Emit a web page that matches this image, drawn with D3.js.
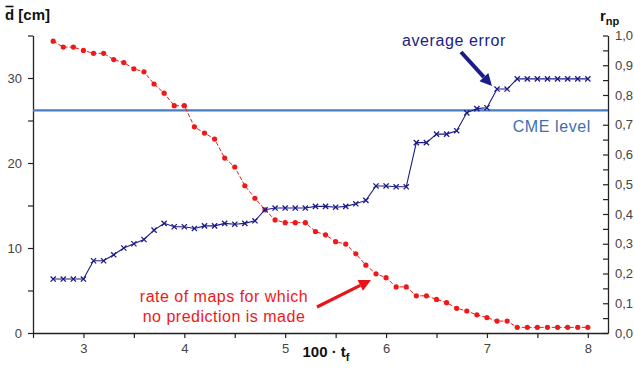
<!DOCTYPE html>
<html>
<head>
<meta charset="utf-8">
<script src="https://cdn.jsdelivr.net/npm/d3@7"></script>
<style>
  body { margin: 0; background: #fff; }
  svg { display: block; font-family: "Liberation Sans", Arial, sans-serif; }
</style>
</head>
<body>
<svg id="chart"></svg>
<script>
// x positions (100 * t_f)
const tf = [2.7, 2.8, 2.9, 3.0, 3.1, 3.2, 3.3, 3.4, 3.5, 3.6,
            3.7, 3.8, 3.9, 4.0, 4.1, 4.2, 4.3, 4.4, 4.5, 4.6,
            4.7, 4.8, 4.9, 5.0, 5.1, 5.2, 5.3, 5.4, 5.5, 5.6,
            5.7, 5.8, 5.9, 6.0, 6.1, 6.2, 6.3, 6.4, 6.5, 6.6,
            6.7, 6.8, 6.9, 7.0, 7.1, 7.2, 7.3, 7.4, 7.5, 7.6,
            7.7, 7.8, 7.9, 8.0];

// average error d [cm] (left axis)
const avgError = [6.35, 6.35, 6.35, 6.35, 8.5, 8.5, 9.2, 10.0, 10.5, 11.0,
                  12.1, 12.9, 12.5, 12.5, 12.3, 12.6, 12.6, 12.9, 12.8, 12.9,
                  13.2, 14.5, 14.7, 14.7, 14.7, 14.7, 14.9, 14.9, 14.8, 14.9,
                  15.2, 15.6, 17.3, 17.3, 17.2, 17.2, 22.4, 22.4, 23.4, 23.4,
                  23.8, 25.9, 26.4, 26.5, 28.7, 28.7, 29.9, 29.9, 29.9, 29.9,
                  29.9, 29.9, 29.9, 29.9];

// rate of maps without prediction r_np (right axis)
const rnp = [0.981, 0.961, 0.961, 0.950, 0.940, 0.940, 0.919, 0.909, 0.888, 0.878,
             0.837, 0.806, 0.764, 0.764, 0.693, 0.672, 0.652, 0.588, 0.558, 0.495,
             0.453, 0.414, 0.380, 0.371, 0.371, 0.371, 0.341, 0.330, 0.307, 0.299,
             0.266, 0.228, 0.199, 0.186, 0.155, 0.155, 0.125, 0.125, 0.113, 0.102,
             0.083, 0.074, 0.061, 0.052, 0.040, 0.040, 0.019, 0.019, 0.019, 0.019,
             0.019, 0.019, 0.019, 0.019];

const cmeLevel = 26.2;

const xMajor = [3, 4, 5, 6, 7, 8];
const xMinor = [2.5, 3.5, 4.5, 5.5, 6.5, 7.5];
const leftMajor = [0, 10, 20, 30];
const leftMinor = [5, 15, 25, 35];
const rightMajor = [0, 0.1, 0.2, 0.3, 0.4, 0.5, 0.6, 0.7, 0.8, 0.9, 1.0];
const rightMinor = [0.05, 0.15, 0.25, 0.35, 0.45, 0.55, 0.65, 0.75, 0.85, 0.95];

const W = 634, H = 371;
const margin = { top: 35.5, right: 26, bottom: 38, left: 33 };

const svg = d3.select("#chart").attr("width", W).attr("height", H);

const x = d3.scaleLinear().domain([2.5, 8.2]).range([margin.left, W - margin.right]);
const yL = d3.scaleLinear().domain([0, 35]).range([H - margin.bottom, margin.top]);
const yR = d3.scaleLinear().domain([0, 1]).range([H - margin.bottom, margin.top]);

const axisColor = "#222";
const labelColor = "#444";

function styleAxis(g) {
  g.select(".domain").attr("stroke", axisColor).attr("stroke-width", 1.3);
  g.selectAll(".tick line").attr("stroke", axisColor).attr("stroke-width", 1.2);
  g.selectAll(".tick text").attr("fill", labelColor).style("font-size", "13px");
}

// x axis
svg.append("g")
  .attr("transform", `translate(0,${H - margin.bottom})`)
  .call(d3.axisBottom(x).tickValues(xMinor).tickSize(5).tickFormat("").tickSizeOuter(0))
  .call(styleAxis);
svg.append("g")
  .attr("transform", `translate(0,${H - margin.bottom})`)
  .call(d3.axisBottom(x).tickValues(xMajor).tickSize(5).tickPadding(6).tickFormat(d3.format("d")).tickSizeOuter(0))
  .call(styleAxis)
  .call(g => g.select(".domain").remove());

// left axis
svg.append("g")
  .attr("transform", `translate(${margin.left},0)`)
  .call(d3.axisLeft(yL).tickValues(leftMinor).tickSize(5).tickFormat("").tickSizeOuter(0))
  .call(styleAxis);
svg.append("g")
  .attr("transform", `translate(${margin.left},0)`)
  .call(d3.axisLeft(yL).tickValues(leftMajor).tickSize(5).tickPadding(6).tickFormat(d3.format("d")).tickSizeOuter(0))
  .call(styleAxis)
  .call(g => g.select(".domain").remove());

// right axis (ticks inward)
const fmtR = d => d3.format(".1f")(d).replace(".", ",");
svg.append("g")
  .attr("transform", `translate(${W - margin.right},0)`)
  .call(d3.axisLeft(yR).tickValues(rightMinor).tickSize(5).tickFormat("").tickSizeOuter(0))
  .call(styleAxis);
svg.append("g")
  .attr("transform", `translate(${W - margin.right},0)`)
  .call(d3.axisLeft(yR).tickValues(rightMajor).tickSize(5).tickFormat(fmtR).tickSizeOuter(0))
  .call(styleAxis)
  .call(g => g.select(".domain").remove())
  .call(g => g.selectAll(".tick text").attr("text-anchor", "start").attr("x", 7));

// CME level line
svg.append("line")
  .attr("x1", margin.left).attr("x2", W - margin.right)
  .attr("y1", yL(cmeLevel)).attr("y2", yL(cmeLevel))
  .attr("stroke", "#4a7cc0").attr("stroke-width", 2.2);

// red series: r_np
const red = "#f01818";
const redData = tf.map((t, i) => ({ t, v: rnp[i] }));
svg.append("path")
  .datum(redData)
  .attr("fill", "none")
  .attr("stroke", red)
  .attr("stroke-width", 1)
  .attr("stroke-dasharray", "4,2")
  .attr("d", d3.line().x(d => x(d.t)).y(d => yR(d.v)));
svg.selectAll(".rdot")
  .data(redData)
  .enter().append("circle")
  .attr("class", "rdot")
  .attr("cx", d => x(d.t))
  .attr("cy", d => yR(d.v))
  .attr("r", 2.6)
  .attr("fill", red);

// blue series: average error
const navy = "#1c1c88";
const blueData = tf.map((t, i) => ({ t, v: avgError[i] }));
svg.append("path")
  .datum(blueData)
  .attr("fill", "none")
  .attr("stroke", navy)
  .attr("stroke-width", 1.1)
  .attr("d", d3.line().x(d => x(d.t)).y(d => yL(d.v)));
svg.selectAll(".bx")
  .data(blueData)
  .enter().append("path")
  .attr("class", "bx")
  .attr("transform", d => `translate(${x(d.t)},${yL(d.v)})`)
  .attr("d", "M-2.6,-2.6L2.6,2.6M-2.6,2.6L2.6,-2.6")
  .attr("stroke", navy)
  .attr("stroke-width", 1.3);

// axis titles
const dTitle = svg.append("text")
  .attr("x", 5).attr("y", 20)
  .attr("font-weight", "bold").style("font-size", "15px").attr("fill", "#111");
dTitle.append("tspan").text("d");
dTitle.append("tspan").text(" [cm]");
svg.append("line")
  .attr("x1", 5.5).attr("x2", 13.5).attr("y1", 6.5).attr("y2", 6.5)
  .attr("stroke", "#111").attr("stroke-width", 1.6);

const rTitle = svg.append("text")
  .attr("x", 600).attr("y", 21)
  .attr("font-weight", "bold").style("font-size", "15px").attr("fill", "#111");
rTitle.append("tspan").text("r");
rTitle.append("tspan").attr("dy", 4).style("font-size", "11px").text("np");

const xTitle = svg.append("text")
  .attr("x", 326).attr("y", 357)
  .attr("text-anchor", "middle")
  .attr("font-weight", "bold").style("font-size", "15px").attr("fill", "#111");
xTitle.append("tspan").text("100 · t");
xTitle.append("tspan").attr("dy", 4).style("font-size", "11px").text("f");

// annotations
svg.append("text")
  .attr("x", 402).attr("y", 46)
  .style("font-size", "16px").attr("letter-spacing", "0.6")
  .attr("fill", navy).text("average error");

svg.append("text")
  .attr("x", 591).attr("y", 132)
  .attr("text-anchor", "end")
  .style("font-size", "16px").attr("letter-spacing", "0.6")
  .attr("fill", "#3e6eb0").text("CME level");

svg.append("text")
  .attr("x", 224).attr("y", 302)
  .attr("text-anchor", "middle")
  .style("font-size", "16px").attr("letter-spacing", "0.5")
  .attr("fill", red).text("rate of maps for which");
svg.append("text")
  .attr("x", 224).attr("y", 322)
  .attr("text-anchor", "middle")
  .style("font-size", "16px").attr("letter-spacing", "0.5")
  .attr("fill", red).text("no prediction is made");

// arrows
function arrow(x1, y1, x2, y2, color, w, headL, headW) {
  const a = Math.atan2(y2 - y1, x2 - x1);
  const bx = x2 - headL * Math.cos(a), by = y2 - headL * Math.sin(a);
  svg.append("line")
    .attr("x1", x1).attr("y1", y1).attr("x2", bx).attr("y2", by)
    .attr("stroke", color).attr("stroke-width", w);
  const px = -Math.sin(a) * headW, py = Math.cos(a) * headW;
  svg.append("path")
    .attr("d", `M${x2},${y2}L${bx + px},${by + py}L${bx - px},${by - py}Z`)
    .attr("fill", color);
}
arrow(461, 52, 492, 86, navy, 4, 12, 6);
arrow(317, 307, 371, 280, "#e8141a", 3.2, 12, 6);
</script>
</body>
</html>
